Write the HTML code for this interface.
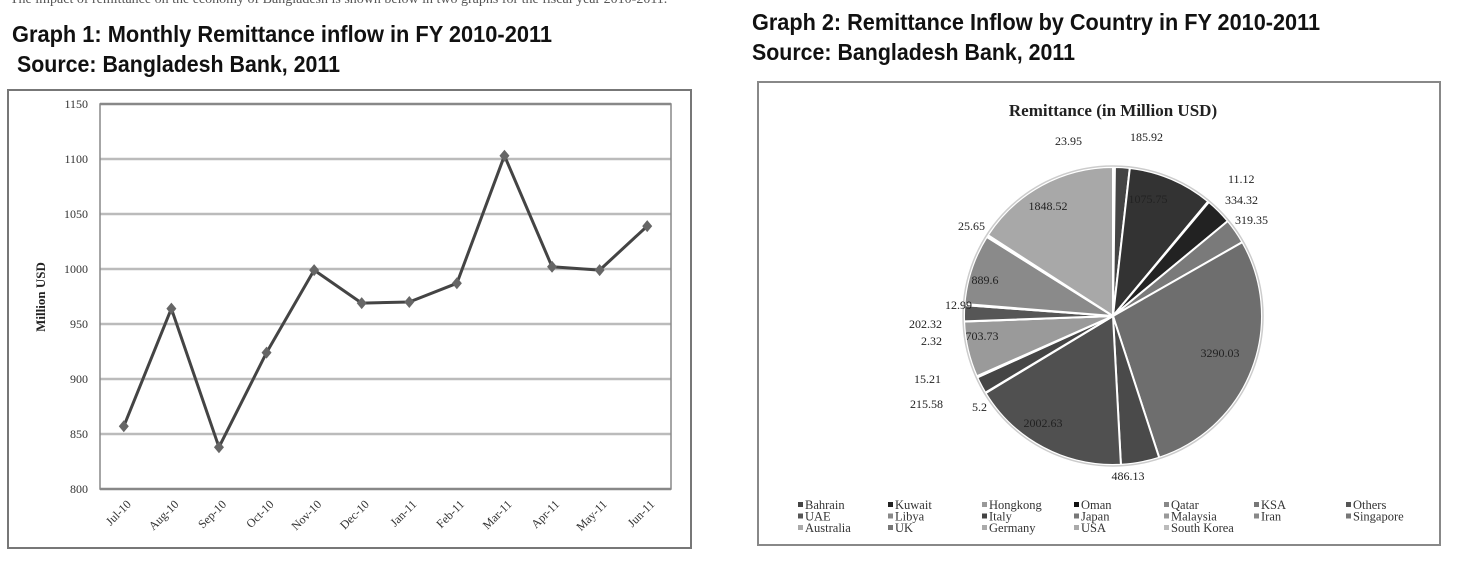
<!DOCTYPE html>
<html><head><meta charset="utf-8"><style>
body{margin:0;background:#fff;width:1457px;height:564px;overflow:hidden}
svg{display:block}
</style></head><body>
<svg id="svg" width="1457" height="564" xmlns="http://www.w3.org/2000/svg">
<text x="10" y="3" font-family="Liberation Serif, serif" font-size="14" fill="#555">The impact of remittance on the economy of Bangladesh is shown below in two graphs for the fiscal year 2010-2011.</text>
<text x="12" y="42" font-family="Liberation Sans Narrow, Liberation Sans, sans-serif" font-weight="bold" font-size="23" textLength="540" lengthAdjust="spacingAndGlyphs" fill="#111">Graph 1: Monthly Remittance inflow in FY 2010-2011</text>
<text x="17" y="72" font-family="Liberation Sans Narrow, Liberation Sans, sans-serif" font-weight="bold" font-size="23" textLength="323" lengthAdjust="spacingAndGlyphs" fill="#111">Source: Bangladesh Bank, 2011</text>
<text x="752" y="30" font-family="Liberation Sans Narrow, Liberation Sans, sans-serif" font-weight="bold" font-size="23" textLength="568" lengthAdjust="spacingAndGlyphs" fill="#111">Graph 2: Remittance Inflow by Country in FY 2010-2011</text>
<text x="752" y="60" font-family="Liberation Sans Narrow, Liberation Sans, sans-serif" font-weight="bold" font-size="23" textLength="323" lengthAdjust="spacingAndGlyphs" fill="#111">Source: Bangladesh Bank, 2011</text>
<rect x="8" y="90" width="683" height="458" fill="#fff" stroke="#777" stroke-width="2"/>
<rect x="758" y="82" width="682" height="463" fill="#fff" stroke="#888" stroke-width="2"/>
<g id="line"></g>
<g id="pie"></g>
</svg>
<script>
const months=['Jul-10','Aug-10','Sep-10','Oct-10','Nov-10','Dec-10','Jan-11','Feb-11','Mar-11','Apr-11','May-11','Jun-11'];
const remit=[857,964,838,924,999,969,970,987,1103,1002,999,1039];
const yTicks=[800,850,900,950,1000,1050,1100,1150];
const countries=['Bahrain','Kuwait','Hongkong','Oman','Qatar','KSA','Others','UAE','Libya','Italy','Japan','Malaysia','Iran','Singapore','Australia','UK','Germany','USA','South Korea'];
const pieVals=[23.95,185.92,1075.75,11.12,334.32,319.35,3290.03,486.13,2002.63,5.2,215.58,15.21,703.73,2.32,202.32,12.99,889.6,25.65,1848.52];
const pieShades=['#b0b0b0','#444','#333','#555','#222','#7a7a7a','#6e6e6e','#4a4a4a','#505050','#666','#454545','#888','#9a9a9a','#777','#565656','#999','#8a8a8a','#bbb','#a8a8a8'];
const legendShades=['#444','#222','#999','#111','#888','#777','#555','#555','#888','#444','#777','#999','#888','#777','#aaa','#777','#aaa','#aaa','#bbb'];
// label layout (pixel positions, not data)
const labelPos=[[1082,145,'end'],[1130,141,'start'],[1148,203,'middle'],[1228,183,'start'],[1225,204,'start'],[1235,224,'start'],[1220,357,'middle'],[1128,480,'middle'],[1043,427,'middle'],[972,411,'start'],[943,408,'end'],[941,383,'end'],[982,340,'middle'],[942,345,'end'],[942,328,'end'],[972,309,'end'],[985,284,'middle'],[985,230,'end'],[1048,210,'middle']];
const NS='http://www.w3.org/2000/svg';
function mk(tag,attrs,parent,txt){const e=document.createElementNS(NS,tag);for(const k in attrs)e.setAttribute(k,attrs[k]);if(txt!==undefined)e.textContent=txt;parent.appendChild(e);return e;}
// line chart
const L=document.getElementById('line');
const px0=100,px1=671,py0=104,py1=489,ymin=800,ymax=1150;
const xs=i=>px0+(i+0.5)*(px1-px0)/months.length;
const ys=v=>py1-(v-ymin)/(ymax-ymin)*(py1-py0);
yTicks.forEach(t=>{
 const g=mk('line',{x1:px0,x2:px1,y1:ys(t),y2:ys(t),stroke:t===800||t===1150?'#888':'#bbb','stroke-width':2.5},L);
 
 
 const tx=mk('text',{x:px0-12,y:ys(t)+4,'text-anchor':'end','font-family':'Liberation Serif, serif','font-size':12,fill:'#333'},L,t);
 
 
});
const ax=mk('rect',{x:px0,y:py0,width:px1-px0,height:py1-py0,fill:'none',stroke:'#888','stroke-width':1.5},L);


const yt=mk('text',{x:0,y:0,transform:'translate(45,297) rotate(-90)','text-anchor':'middle','font-family':'Liberation Serif, serif','font-weight':'bold','font-size':13,fill:'#222'},L,'Million USD');


months.forEach((m,i)=>{
 const t=mk('text',{x:0,y:0,transform:`translate(${xs(i)+8},${py1+16}) rotate(-45)`,'text-anchor':'end','font-family':'Liberation Serif, serif','font-size':12,fill:'#333'},L,m);
 
 
});
const pl=mk('polyline',{points:remit.map((v,i)=>xs(i)+','+ys(v)).join(' '),fill:'none',stroke:'#444','stroke-width':3,'stroke-linejoin':'round'},L);


remit.forEach((v,i)=>{
 const x=xs(i),y=ys(v);
 const p=mk('polygon',{points:`${x},${y-6} ${x+5},${y} ${x},${y+6} ${x-5},${y}`,fill:'#666'},L);
 
 
});
// pie chart
const P=document.getElementById('pie');
const cx=1113,cy=316,r=149;
const tt=mk('text',{x:1113,y:116,'text-anchor':'middle','font-family':'Liberation Serif, serif','font-weight':'bold','font-size':17,fill:'#222'},P,'Remittance (in Million USD)');


const total=pieVals.reduce((a,b)=>a+b,0);
let a0=0;
pieVals.forEach((v,i)=>{
 const a1=a0+v/total*Math.PI*2;
 const sx=cx+r*Math.sin(a0),sy=cy-r*Math.cos(a0),ex=cx+r*Math.sin(a1),ey=cy-r*Math.cos(a1);
 const large=(a1-a0)>Math.PI?1:0;
 const s=mk('path',{d:`M${cx},${cy} L${sx},${sy} A${r},${r} 0 ${large} 1 ${ex},${ey} Z`,fill:pieShades[i],stroke:'#fff','stroke-width':2},P);
 
 
 a0=a1;
});
const ring=mk('circle',{cx:cx,cy:cy,r:r+1,fill:'none',stroke:'#ccc','stroke-width':1.5},P);


pieVals.forEach((v,i)=>{
 const [x,y,anchor]=labelPos[i];
 const t=mk('text',{x:x,y:y,'text-anchor':anchor,'font-family':'Liberation Serif, serif','font-size':12,fill:'#222'},P,String(v));
 
 
});
// legend
const colX=[798,888,982,1074,1164,1254,1346];
countries.forEach((c,i)=>{
 const row=Math.floor(i/7),col=i%7;
 const x=colX[col],y=509+row*11.5;
 const sq=mk('rect',{x:x,y:y-7,width:5,height:5,fill:legendShades[i]},P);
 
 
 const t=mk('text',{x:x+7,y:y,'font-family':'Liberation Serif, serif','font-size':12.5,fill:'#333'},P,c);
 
 
});
</script>
</body></html>
